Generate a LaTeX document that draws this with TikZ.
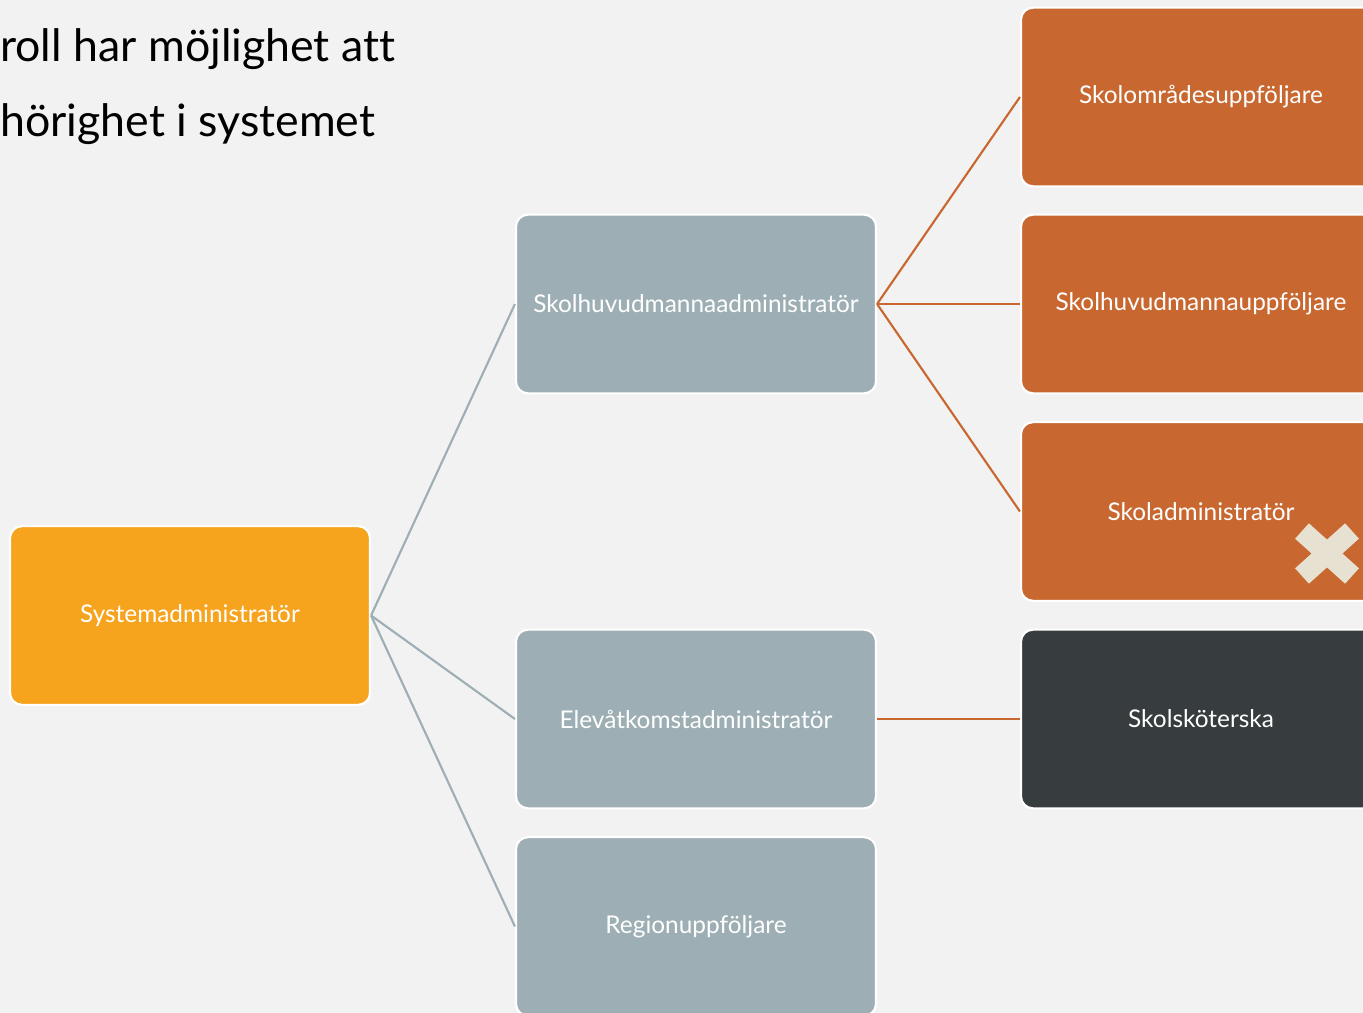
\documentclass[tikz,border=0pt]{standalone}
\usepackage{fontspec}
\setmainfont[Ligatures=NoCommon]{Lato}
\definecolor{bg}{HTML}{F2F2F2}
\definecolor{sysor}{HTML}{F6A31E}
\definecolor{graybox}{HTML}{9DAFB4}
\definecolor{rust}{HTML}{C86830}
\definecolor{dark}{HTML}{373D3F}
\definecolor{crossc}{HTML}{E6E1D0}
\begin{document}
\begin{tikzpicture}[x=0.75pt,y=-0.75pt,
  box/.style={draw=white,line width=1.6pt,rounded corners=9pt,minimum width=270pt,minimum height=134pt,inner sep=0pt,text=white,font=\fontsize{18.3}{22}\selectfont},
  sysbox/.style={box,fill=sysor},
  gbox/.style={box,fill=graybox},
  obox/.style={box,fill=rust},
  dbox/.style={box,fill=dark},
  glink/.style={draw=graybox,line width=1.6pt},
  olink/.style={draw=rust,line width=1.6pt},
  title/.style={anchor=base west,inner sep=0pt,font=\fontsize{33.5}{40}\selectfont,text=black}]
\useasboundingbox (0,0) rectangle (1363,1013);
\clip (0,0) rectangle (1363,1013);
\fill[bg] (0,0) rectangle (1363,1013);
\node[title] (t1) at (0,62) {roll har möjlighet att};
\node[title] (t2) at (0,137) {hörighet i systemet};
\node[sysbox] (sys) at (190,615.5) {Systemadministratör};
\node[gbox] (shadm) at (696,304) {Skolhuvudmannaadministratör};
\node[gbox] (elev) at (696,719) {Elevåtkomstadministratör};
\node[gbox] (reg) at (696,926.5) {Regionuppföljare};
\node[obox] (somr) at (1201,97) {Skolområdesuppföljare};
\node[obox] (shupp) at (1201,304) {Skolhuvudmannauppföljare};
\node[obox] (sadm) at (1201,511.5) {Skoladministratör};
\node[dbox] (ssk) at (1201,719) {Skolsköterska};
\draw[glink] (sys.east) -- (shadm.west);
\draw[glink] (sys.east) -- (elev.west);
\draw[glink] (sys.east) -- (reg.west);
\draw[olink] (shadm.east) -- (somr.west);
\draw[olink] (shadm.east) -- (shupp.west);
\draw[olink] (shadm.east) -- (sadm.west);
\draw[olink] (elev.east) -- (ssk.west);
\coordinate (c1) at (1302,531);
\coordinate (c2) at (1352,576);
\coordinate (c3) at (1352,531);
\coordinate (c4) at (1302,576);
\draw[crossc,line width=15.5pt] (c1) -- (c2) (c3) -- (c4);
\end{tikzpicture}
\end{document}
